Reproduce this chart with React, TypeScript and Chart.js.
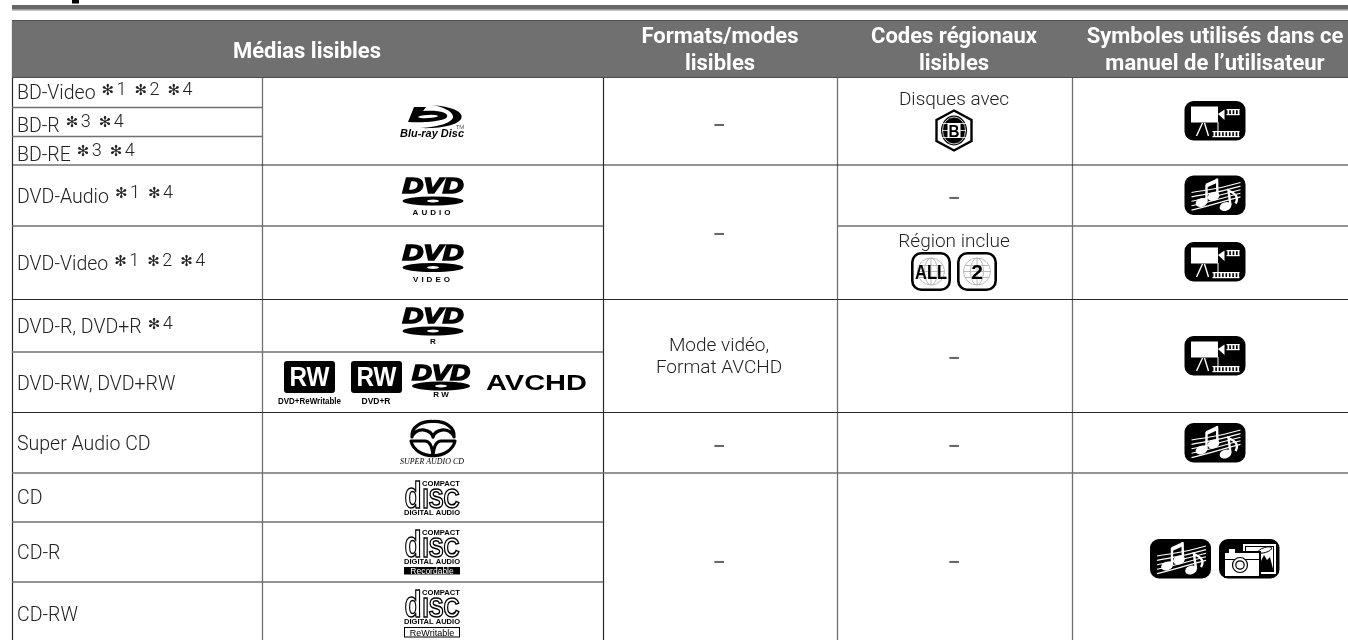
import React, { useEffect, useRef } from "react";
import { Chart, registerables } from "chart.js";

Chart.register(...registerables);

const BODY = "Roboto, 'Liberation Sans', sans-serif";
const HELV = "'Liberation Sans', sans-serif";

// table grid (in table units, one unit per pixel of the x / y scales)
const columnEdges = [12, 262, 603, 837, 1072, 1349];
const tableTop = 20.5;
const headerBottom = 77.5;
const tableBottom = 640;

const headers = [["Médias lisibles"], ["Formats/modes", "lisibles"], ["Codes régionaux", "lisibles"], ["Symboles utilisés dans ce", "manuel de l’utilisateur"]];
const mediaNames = ["BD-Video", "BD-R", "BD-RE", "DVD-Audio", "DVD-Video", "DVD-R, DVD+R", "DVD-RW, DVD+RW", "Super Audio CD", "CD", "CD-R", "CD-RW"];
const mediaNotes = [["1", "2", "4"], ["3", "4"], ["3", "4"], ["1", "4"], ["1", "2", "4"], ["4"], [], [], [], [], []];
const mediaBaselines = [99, 131.5, 160.5, 202.5, 270, 333, 390, 450, 504, 559, 620.5];
const formatModes = ["–", "–", "Mode vidéo,", "Format AVCHD", "–", "–"];
const formatBaselines = [131, 240, 350.5, 372.5, 452, 567.5];
const regionTexts = ["Disques avec", "–", "Région inclue", "–", "–", "–"];
const regionBaselines = [104.5, 203.5, 246.5, 364, 452, 567.5];

// [y, firstColumn, lastColumnEdge, grey?]
const rules: [number, number, number, boolean][] = [
  [107.5, 0, 1, true],
  [136.5, 0, 1, true],
  [165, 0, 5, false],
  [226, 0, 2, true],
  [226, 3, 5, true],
  [299.5, 0, 5, false],
  [352, 0, 2, true],
  [412.5, 0, 5, false],
  [473, 0, 5, true],
  [522, 0, 2, true],
  [582, 0, 2, true],
];
// [columnEdge index, grey?]
const verticals: [number, boolean][] = [[0, false], [1, true], [2, false], [3, true], [4, true]];

const rr = (c: CanvasRenderingContext2D, x: number, y: number, w: number, h: number, r: number) => {
  c.beginPath();
  c.roundRect(x, y, w, h, r);
};

function txt(c: CanvasRenderingContext2D, s: string, x: number, y: number, font: string, color = "#222", align: CanvasTextAlign = "left", maxW?: number) {
  c.font = font;
  c.fillStyle = color;
  c.textAlign = align;
  c.textBaseline = "alphabetic";
  if (maxW) c.fillText(s, x, y, maxW);
  else c.fillText(s, x, y);
}

// centred text stretched horizontally to an exact width
function wide(c: CanvasRenderingContext2D, s: string, cx: number, y: number, font: string, color: string, w: number, stroke = 0) {
  c.save();
  c.font = font;
  c.textAlign = "center";
  c.textBaseline = "alphabetic";
  c.fillStyle = color;
  const k = w / c.measureText(s).width;
  c.translate(cx, y);
  c.scale(k, 1);
  c.fillText(s, 0, 0);
  if (stroke) {
    c.strokeStyle = color;
    c.lineWidth = stroke;
    c.strokeText(s, 0, 0);
  }
  c.restore();
}

function dvdLogo(c: CanvasRenderingContext2D, cx: number, top: number, discY: number, label: string, labelY: number, spacing: string, w = 61) {
  wide(c, "DVD", cx, top + 16, `italic 900 22px ${HELV}`, "#000", w, 1.6);
  c.fillStyle = "#000";
  c.beginPath();
  c.ellipse(cx, discY, w / 2, 4.6, 0, 0, Math.PI * 2);
  c.fill();
  c.fillStyle = "#fff";
  c.beginPath();
  c.ellipse(cx, discY, 6, 1.4, 0, 0, Math.PI * 2);
  c.fill();
  (c as any).letterSpacing = spacing;
  txt(c, label, cx, labelY, `bold 8px ${HELV}`, "#000", "center");
  (c as any).letterSpacing = "0px";
}

function filmIcon(c: CanvasRenderingContext2D, x: number, y: number) {
  c.fillStyle = "#000";
  rr(c, x, y, 61, 39.5, 9);
  c.fill();
  c.fillStyle = "#fff";
  c.fillRect(x + 6.5, y + 5.5, 27, 16);
  c.beginPath();
  c.moveTo(x + 33.5, y + 13);
  c.lineTo(x + 40, y + 8.5);
  c.lineTo(x + 40, y + 19);
  c.closePath();
  c.fill();
  c.strokeStyle = "#fff";
  c.lineWidth = 1.4;
  c.beginPath();
  c.moveTo(x + 18, y + 22);
  c.lineTo(x + 12, y + 35);
  c.moveTo(x + 20, y + 22);
  c.lineTo(x + 24, y + 35);
  c.stroke();
  c.lineWidth = 1;
  c.beginPath();
  c.moveTo(x + 33.5, y + 21);
  c.lineTo(x + 33.5, y + 30);
  c.stroke();
  c.fillRect(x + 42, y + 8, 13, 1.2);
  c.fillRect(x + 42, y + 13, 13, 1.2);
  for (let i = 0; i < 4; i++) c.fillRect(x + 43 + i * 3.4, y + 8, 1.7, 6);
  c.fillRect(x + 28, y + 30, 27, 1.2);
  c.fillRect(x + 28, y + 35, 27, 1.2);
  for (let i = 0; i < 8; i++) c.fillRect(x + 29 + i * 3.4, y + 30, 1.8, 6);
}

function musicIcon(c: CanvasRenderingContext2D, x: number, y: number) {
  c.fillStyle = "#000";
  rr(c, x, y, 61, 39.5, 9);
  c.fill();
  c.strokeStyle = "#fff";
  c.fillStyle = "#fff";
  c.lineWidth = 1.1;
  for (let i = 0; i < 5; i++) {
    c.beginPath();
    c.moveTo(x + 7, y + 17 + i * 4.4);
    c.bezierCurveTo(x + 22, y + 14 + i * 4.4, x + 30, y + 15 + i * 3.2, x + 56, y + 7 + i * 3.6);
    c.stroke();
  }
  c.lineWidth = 2.4;
  const heads: [number, number][] = [[17, 27], [29, 21], [41, 31]];
  heads.forEach(([a, b]) => {
    c.beginPath();
    c.ellipse(x + a, y + b, 6, 4.3, -0.35, 0, Math.PI * 2);
    c.fill();
  });
  c.beginPath();
  c.moveTo(x + 22, y + 26);
  c.lineTo(x + 22, y + 9);
  c.moveTo(x + 33, y + 20);
  c.lineTo(x + 32.5, y + 3);
  c.moveTo(x + 46, y + 30);
  c.lineTo(x + 44, y + 15);
  c.quadraticCurveTo(x + 56, y + 20, x + 51, y + 28);
  c.stroke();
  c.lineWidth = 4;
  c.beginPath();
  c.moveTo(x + 22, y + 10);
  c.lineTo(x + 33, y + 5);
  c.stroke();
}

function cameraIcon(c: CanvasRenderingContext2D, x: number, y: number) {
  c.fillStyle = "#000";
  rr(c, x, y, 60.5, 39.5, 9);
  c.fill();
  c.fillStyle = "#fff";
  c.fillRect(x + 24, y + 5, 33, 30);
  c.fillStyle = "#000";
  c.fillRect(x + 26, y + 7, 29, 26);
  c.fillStyle = "#fff";
  c.fillRect(x + 27, y + 8, 27, 22);
  c.fillStyle = "#000";
  c.beginPath();
  c.moveTo(x + 38, y + 30);
  c.lineTo(x + 45, y + 16);
  c.lineTo(x + 48, y + 21);
  c.lineTo(x + 51, y + 18);
  c.lineTo(x + 54, y + 30);
  c.closePath();
  c.fill();
  c.strokeStyle = "#000";
  c.lineWidth = 1;
  c.beginPath();
  c.ellipse(x + 46, y + 11, 7, 2.5, -0.3, 0, Math.PI * 2);
  c.stroke();
  c.fillStyle = "#000";
  c.fillRect(x + 5, y + 12, 37, 27);
  c.fillStyle = "#fff";
  c.fillRect(x + 10, y + 10, 6, 4);
  c.fillRect(x + 6, y + 14, 34, 23);
  c.fillStyle = "#000";
  c.fillRect(x + 6, y + 20, 34, 1);
  c.lineWidth = 1.2;
  c.fillStyle = "#fff";
  c.beginPath();
  c.arc(x + 21, y + 26, 7.5, 0, Math.PI * 2);
  c.fill();
  c.stroke();
  c.beginPath();
  c.arc(x + 21, y + 26, 4.2, 0, Math.PI * 2);
  c.stroke();
}

function regionBox(c: CanvasRenderingContext2D, x: number, y: number, s: string) {
  const cx = x + 20, cy = y + 19.5;
  c.strokeStyle = "#bbb";
  c.lineWidth = 1;
  c.beginPath();
  c.arc(cx, cy, 13.5, 0, Math.PI * 2);
  c.moveTo(cx, cy - 13.5);
  c.lineTo(cx, cy + 13.5);
  c.moveTo(cx - 13.5, cy);
  c.lineTo(cx + 13.5, cy);
  c.moveTo(cx - 12, cy - 6);
  c.lineTo(cx + 12, cy - 6);
  c.moveTo(cx - 12, cy + 6);
  c.lineTo(cx + 12, cy + 6);
  c.stroke();
  c.beginPath();
  c.ellipse(cx, cy, 6.5, 13.5, 0, 0, Math.PI * 2);
  c.stroke();
  c.strokeStyle = "#000";
  c.lineWidth = 2.6;
  rr(c, x + 1.3, y + 1.3, 37.4, 36.4, 9);
  c.stroke();
  txt(c, s, cx, cy + 7.5, `900 21px ${HELV}`, "#000", "center", 32);
}

function hexB(c: CanvasRenderingContext2D, cx: number, cy: number) {
  c.strokeStyle = "#000";
  c.lineWidth = 2.4;
  c.beginPath();
  c.moveTo(cx, cy - 20);
  c.lineTo(cx + 17.5, cy - 10.5);
  c.lineTo(cx + 17.5, cy + 10.5);
  c.lineTo(cx, cy + 20);
  c.lineTo(cx - 17.5, cy + 10.5);
  c.lineTo(cx - 17.5, cy - 10.5);
  c.closePath();
  c.stroke();
  c.fillStyle = "#000";
  c.beginPath();
  c.ellipse(cx, cy, 13, 15, 0, 0, Math.PI * 2);
  c.fill();
  c.strokeStyle = "#fff";
  c.lineWidth = 0.8;
  c.beginPath();
  c.ellipse(cx, cy, 11.5, 13.5, 0, 0, Math.PI * 2);
  c.moveTo(cx - 12, cy - 7);
  c.lineTo(cx + 12, cy - 7);
  c.moveTo(cx - 12, cy + 7);
  c.lineTo(cx + 12, cy + 7);
  c.moveTo(cx - 12, cy);
  c.lineTo(cx + 12, cy);
  c.stroke();
  c.fillStyle = "#fff";
  c.fillRect(cx - 6.5, cy - 7.5, 13, 15);
  txt(c, "B", cx, cy + 6, `900 17px ${HELV}`, "#000", "center", 11);
}

function bluRay(c: CanvasRenderingContext2D) {
  c.fillStyle = "#000";
  c.beginPath();
  c.moveTo(432, 105);
  c.bezierCurveTo(456, 107, 463, 113, 461.5, 118);
  c.bezierCurveTo(459, 125, 440, 129, 420, 128);
  c.bezierCurveTo(440, 127, 454, 122, 453, 116);
  c.bezierCurveTo(452, 111, 443, 107, 432, 105);
  c.fill();
  c.beginPath();
  c.moveTo(414, 107);
  c.lineTo(426, 107);
  c.lineTo(423, 111);
  c.bezierCurveTo(440, 110, 449, 113, 447, 117);
  c.bezierCurveTo(445, 121, 425, 123, 408, 122);
  c.closePath();
  c.fill();
  c.fillStyle = "#fff";
  c.beginPath();
  c.ellipse(428, 116.5, 10, 1.6, -0.05, 0, Math.PI * 2);
  c.fill();
  wide(c, "Blu-ray Disc", 432, 136.5, `italic 900 10.5px ${HELV}`, "#000", 64);
  txt(c, "TM", 460, 129, `6px ${HELV}`, "#555", "center");
}

function saCd(c: CanvasRenderingContext2D, cx: number) {
  c.strokeStyle = "#000";
  c.lineCap = "round";
  c.lineWidth = 3.2;
  c.beginPath();
  c.moveTo(cx - 21, 437);
  c.bezierCurveTo(cx - 22, 427, cx - 12, 421, cx, 421.5);
  c.bezierCurveTo(cx + 12, 421, cx + 22, 427, cx + 21, 437);
  c.moveTo(cx - 21, 436);
  c.bezierCurveTo(cx - 14, 426, cx - 2, 430, cx, 437);
  c.moveTo(cx + 21, 436);
  c.bezierCurveTo(cx + 14, 426, cx + 2, 430, cx, 437);
  c.moveTo(cx - 22, 441);
  c.lineTo(cx - 8, 441);
  c.bezierCurveTo(cx - 3, 441, cx - 1, 446, cx, 455);
  c.moveTo(cx + 22, 441);
  c.lineTo(cx + 8, 441);
  c.bezierCurveTo(cx + 3, 441, cx + 1, 446, cx, 455);
  c.moveTo(cx - 22, 441);
  c.bezierCurveTo(cx - 20, 450, cx - 10, 456, cx, 455.5);
  c.bezierCurveTo(cx + 10, 456, cx + 20, 450, cx + 22, 441);
  c.stroke();
  c.lineCap = "butt";
  wide(c, "SUPER AUDIO CD", cx - 1, 464, `italic 8px 'Liberation Serif', serif`, "#000", 64);
}

function cdLogo(c: CanvasRenderingContext2D, cx: number, top: number) {
  wide(c, "COMPACT", cx + 9, top + 4.5, `900 6.5px ${HELV}`, "#000", 38);
  c.textBaseline = "alphabetic";
  c.textAlign = "center";
  c.strokeStyle = "#000";
  c.lineWidth = 1.5;
  c.font = `bold 37px ${HELV}`;
  c.strokeText("d", cx - 19, top + 27, 17);
  c.font = `bold 27px ${HELV}`;
  c.strokeText("ISC", cx + 9, top + 27, 37);
  wide(c, "DIGITAL AUDIO", cx, top + 33.5, `900 7.5px ${HELV}`, "#000", 56);
}

const tablePlugin = {
  id: "tablePlugin",
  afterDatasetsDraw(chart: any) {
    const c: CanvasRenderingContext2D = chart.ctx;
    const X = (v: number) => chart.scales.x.getPixelForValue(v);
    const Y = (v: number) => chart.scales.y.getPixelForValue(v);
    c.save();

    // fragment of the title above the rule
    c.fillStyle = "#000";
    c.fillRect(X(72), Y(0), 7, 3.5);

    // header cells
    const headFont = `bold 22px ${BODY}`;
    const headCentres = [307, 720, 954, 1215];
    headers.forEach((lines, i) => {
      if (lines.length === 1) txt(c, lines[0], X(headCentres[i]), Y(57.5), headFont, "#fff", "center", 150);
      else lines.forEach((s, j) => txt(c, s, X(headCentres[i]), Y(j ? 70 : 43), headFont, "#fff", "center", 260));
    });

    // first column
    const bodyFont = `300 19.5px ${BODY}`;
    mediaNames.forEach((name, i) => {
      txt(c, name, X(17), Y(mediaBaselines[i]), bodyFont);
      let nx = X(17) + c.measureText(name).width + 6;
      mediaNotes[i].forEach((n) => {
        txt(c, "✻", nx, Y(mediaBaselines[i] - 4.5), `15px 'DejaVu Sans'`, "#222");
        txt(c, n, nx + 15, Y(mediaBaselines[i] - 4.5), `300 18px ${BODY}`);
        nx += 33;
      });
    });

    // text columns
    const cell = (s: string, x: number, y: number) => {
      const dash = s === "–";
      txt(c, s, x, y, dash ? `700 19px ${BODY}` : `300 19px ${BODY}`, dash ? "#666" : "#222", "center");
    };
    formatModes.forEach((s, i) => cell(s, X(719), Y(formatBaselines[i])));
    regionTexts.forEach((s, i) => cell(s, X(954), Y(regionBaselines[i])));

    // media logos
    bluRay(c);
    dvdLogo(c, X(433), Y(177), Y(201), "AUDIO", Y(215), "3px");
    dvdLogo(c, X(433), Y(244), Y(267.5), "VIDEO", Y(281.5), "3px");
    dvdLogo(c, X(433), Y(307), Y(331), "R", Y(344), "0px");
    dvdLogo(c, X(441), Y(364), Y(386), "R W", Y(397), "0px", 58);

    [284, 351].forEach((x) => {
      c.fillStyle = "#000";
      rr(c, X(x), Y(361), 51, 32, 3);
      c.fill();
      wide(c, "RW", X(x + 25.5), Y(386), `900 27px ${HELV}`, "#fff", 40);
    });
    wide(c, "DVD+ReWritable", X(309.5), Y(404), `bold 8.5px ${HELV}`, "#000", 63);
    wide(c, "DVD+R", X(376), Y(404), `bold 8.5px ${HELV}`, "#000", 29);
    wide(c, "AVCHD", X(536.5), Y(390), `bold 22px ${HELV}`, "#000", 101);

    saCd(c, X(433));
    cdLogo(c, X(432), Y(481));
    cdLogo(c, X(432), Y(530));
    c.fillStyle = "#000";
    c.fillRect(X(404), Y(567), 56, 7.5);
    txt(c, "Recordable", X(432), Y(574), `8.5px ${HELV}`, "#fff", "center", 46);
    cdLogo(c, X(432), Y(590));
    c.strokeStyle = "#000";
    c.lineWidth = 1;
    c.strokeRect(X(404.5), Y(627.5), 55, 9.5);
    txt(c, "ReWritable", X(432), Y(636), `9px ${HELV}`, "#000", "center", 46);

    // region marks
    hexB(c, X(954), Y(130.5));
    regionBox(c, X(911), Y(252), "ALL");
    regionBox(c, X(957), Y(252), "2");

    // symbols
    [101, 242, 336].forEach((y) => filmIcon(c, X(1184.5), Y(y)));
    [175.5, 423].forEach((y) => musicIcon(c, X(1184.5), Y(y)));
    musicIcon(c, X(1150), Y(539));
    cameraIcon(c, X(1219), Y(539));

    c.restore();
  },
};

export default function App() {
  const ref = useRef<HTMLCanvasElement>(null);
  useEffect(() => {
    const seg = (x0: number, y0: number, x1: number, y1: number, color: string, width: number) => ({
      type: "line" as const,
      data: [{ x: x0, y: y0 }, { x: x1, y: y1 }],
      borderColor: color,
      borderWidth: width,
      pointRadius: 0,
      fill: false,
    });
    const band = (x0: number, y0: number, x1: number, y1: number, color: string) => ({
      type: "line" as const,
      data: [{ x: x0, y: y0 }, { x: x1, y: y0 }],
      borderColor: color,
      borderWidth: 0,
      backgroundColor: color,
      pointRadius: 0,
      fill: { value: y1 },
    });
    const DARK = "#2a2a2a";
    const GREY = "#707070";
    const datasets: any[] = [
      band(12, 5, 1349, 9.5, "#666666"),
      band(12, 9.5, 1349, 10.8, "#b0b0b0"),
      band(12, tableTop, 1349, headerBottom, "#707070"),
      seg(12, tableTop, 1349, tableTop, DARK, 1.2),
      seg(12, headerBottom, 1349, headerBottom, DARK, 1.2),
      ...rules.map(([y, a, b, grey]) => seg(columnEdges[a], y, columnEdges[b], y, grey ? GREY : DARK, grey ? 1.6 : 1.2)),
      ...verticals.map(([i, grey]) => seg(columnEdges[i] + 0.5, headerBottom, columnEdges[i] + 0.5, tableBottom, grey ? GREY : DARK, grey ? 1.3 : 1.2)),
      seg(12.5, tableTop, 12.5, headerBottom, DARK, 1.2),
      ...[2, 3, 4].map((i) => seg(columnEdges[i] + 0.5, tableTop, columnEdges[i] + 0.5, headerBottom, "#d8d8d8", 1)),
    ];
    const chart = new Chart(ref.current!, {
      type: "line",
      data: { datasets },
      options: {
        animation: false,
        responsive: false,
        layout: { padding: 0 },
        plugins: { legend: { display: false }, tooltip: { enabled: false }, title: { display: false } },
        scales: {
          x: { type: "linear", min: 0, max: 1348, display: false },
          y: { type: "linear", min: 0, max: 640, reverse: true, display: false },
        },
      },
      plugins: [tablePlugin],
    } as any);
    return () => chart.destroy();
  }, []);
  return <canvas ref={ref} width={1348} height={640} style={{ position: "fixed", left: 0, top: 0, background: "#fff" }} />;
}
